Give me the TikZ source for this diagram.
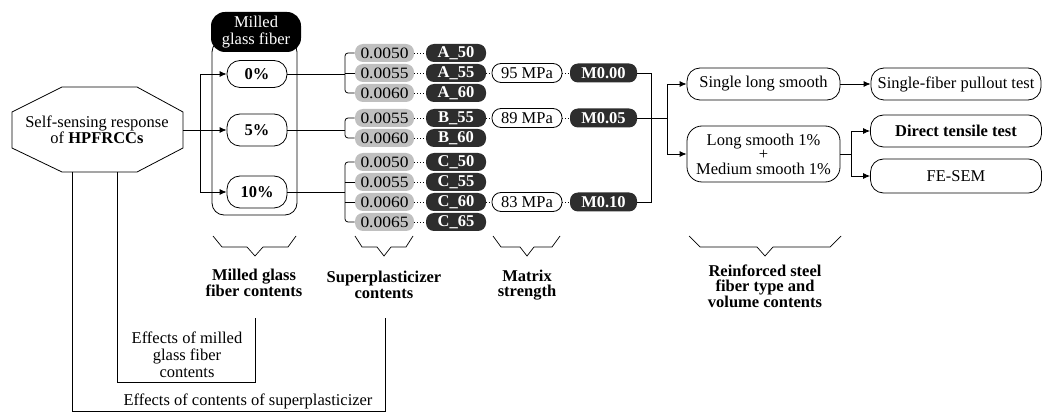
\documentclass[tikz,border=0pt]{standalone}
\usepackage{fontspec}
\setmainfont{Liberation Serif}
\usetikzlibrary{arrows.meta}
\definecolor{darkbox}{RGB}{45,45,45}
\definecolor{graybox}{RGB}{192,192,192}
\newcommand{\gnum}[1]{\resizebox{48pt}{10.5pt}{#1}}
\begin{document}
\begin{tikzpicture}[x=1pt,y=-1pt,line width=0.8pt,
  font=\fontsize{16.5}{17}\selectfont,
  arr/.style={-{Latex[length=7pt,width=6pt]}},
  roundbox/.style={draw,fill=white,rounded corners=13pt,inner sep=0pt,align=center},
  pctbox/.style={roundbox,minimum width=60pt,font=\bfseries\fontsize{16.5}{17}\selectfont},
  graynode/.style={fill=graybox,rounded corners=8pt,minimum width=59pt,minimum height=18pt,inner sep=0pt},
  darknode/.style={fill=darkbox,text=white,rounded corners=8pt,minimum height=18pt,inner sep=0pt,
    font=\bfseries\fontsize{16.5}{17}\selectfont},
  mpabox/.style={draw,fill=white,rounded corners=9pt,minimum width=70pt,minimum height=19pt,inner sep=0pt},
  dotc/.style={dotted,line width=0.8pt},
  bracelbl/.style={align=center,font=\bfseries\fontsize{16.5}{15.5}\selectfont},
  plainlbl/.style={align=center,font=\fontsize{16.5}{17}\selectfont}]
\useasboundingbox (0,0) rectangle (1044,414);

% octagon
\draw (62,87) -- (137,87) -- (183,112) -- (183,148) -- (137,172) -- (62,172) -- (12,148) -- (12,112) -- cycle;
\node[align=center,font=\fontsize{16.5}{16}\selectfont] (octtext) at (97,130) {Self-sensing response\\of \textbf{HPFRCCs}};
\coordinate (octE) at (183,130);
\coordinate (octB1) at (72,172);
\coordinate (octB2) at (117,172);

% milled glass fiber container
\draw[rounded corners=12pt] (212,40) rectangle (297,215);
\node[fill=black,text=white,rounded corners=14pt,minimum width=90pt,minimum height=40pt,inner sep=0pt,align=center,
  font=\fontsize{16.5}{17}\selectfont] (hdr) at (256,32) {Milled\\glass fiber};
\node[pctbox,minimum height=27pt] (p0) at (257,74) {0\%};
\node[pctbox,minimum height=32pt] (p5) at (257,130) {5\%};
\node[pctbox,minimum height=32pt] (p10) at (257,192) {10\%};

\draw[arr] (octE) -- (p5.west);
\draw[arr] (200,130) |- (p0.west);
\draw[arr] (200,130) |- (p10.west);

% superplasticizer
\node[graynode] (g1) at (384.5,53) {\gnum{0.0050}};
\node[graynode] (g2) at (384.5,73) {\gnum{0.0055}};
\node[graynode] (g3) at (384.5,93) {\gnum{0.0060}};
\node[graynode] (g4) at (384.5,118) {\gnum{0.0055}};
\node[graynode] (g5) at (384.5,138) {\gnum{0.0060}};
\node[graynode] (g6) at (384.5,162) {\gnum{0.0050}};
\node[graynode] (g7) at (384.5,182) {\gnum{0.0055}};
\node[graynode] (g8) at (384.5,202) {\gnum{0.0060}};
\node[graynode] (g9) at (384.5,222) {\gnum{0.0065}};
\node[darknode,minimum width=60pt] (d1) at (456,53) {A\_50};
\node[darknode,minimum width=60pt] (d2) at (456,73) {A\_55};
\node[darknode,minimum width=60pt] (d3) at (456,93) {A\_60};
\node[darknode,minimum width=60pt] (d4) at (456,118) {B\_55};
\node[darknode,minimum width=60pt] (d5) at (456,138) {B\_60};
\node[darknode,minimum width=60pt] (d6) at (456,162) {C\_50};
\node[darknode,minimum width=60pt] (d7) at (456,182) {C\_55};
\node[darknode,minimum width=60pt] (d8) at (456,202) {C\_60};
\node[darknode,minimum width=60pt] (d9) at (456,222) {C\_65};
\foreach \i in {1,...,9}{\draw[dotc] (g\i.east) -- (d\i.west);}

\draw[rounded corners=3pt] (g1.west) -- (345,53) -- (345,93) -- (g3.west);
\draw (345,73) -- (g2.west);
\draw[rounded corners=3pt] (g4.west) -- (345,118) -- (345,138) -- (g5.west);
\draw[rounded corners=3pt] (g6.west) -- (345,162) -- (345,222) -- (g9.west);
\draw (345,182) -- (g7.west);
\draw (345,202) -- (g8.west);
\draw (p0.east) -- (345,74);
\draw (p5.east) -- (345,130);
\draw (p10.east) -- (345,192);

% matrix strength
\node[mpabox] (m1) at (527,73) {95 MPa};
\node[mpabox] (m2) at (527,118) {89 MPa};
\node[mpabox] (m3) at (527,202) {83 MPa};
\node[darknode,minimum width=67pt,minimum height=19pt] (M1) at (603.5,73) {M0.00};
\node[darknode,minimum width=67pt,minimum height=19pt] (M2) at (603.5,118) {M0.05};
\node[darknode,minimum width=67pt,minimum height=19pt] (M3) at (603.5,202) {M0.10};
\draw[dotc] (d2.east) -- (m1.west);
\draw[dotc] (d4.east) -- (m2.west);
\draw[dotc] (d8.east) -- (m3.west);
\draw[dotc] (m1.east) -- (M1.west);
\draw[dotc] (m2.east) -- (M2.west);
\draw[dotc] (m3.east) -- (M3.west);

\draw (M1.east) -- (651,73) -- (651,202) -- (M3.east);
\draw (M2.east) -- (667,118);

% steel fiber
\node[roundbox,minimum width=153pt,minimum height=32pt] (sls) at (763.5,84) {Single long smooth};
\node[roundbox,minimum width=153pt,minimum height=56pt,rounded corners=15pt,
  font=\fontsize{16.5}{14.5}\selectfont] (lsm) at (763.5,154) {Long smooth 1\%\\+\\Medium smooth 1\%};
\node[roundbox,minimum width=170pt,minimum height=32pt] (sfp) at (956,84) {Single-fiber pullout test};
\node[roundbox,minimum width=171pt,minimum height=32pt,font=\bfseries\fontsize{16.5}{17}\selectfont] (dtt) at (956,131) {Direct tensile test};
\node[roundbox,minimum width=171pt,minimum height=34pt] (fes) at (956,176) {FE-SEM};

\draw[arr] (667,118) |- (sls.west);
\draw[arr] (667,118) |- (lsm.west);
\draw[arr] (sls.east) -- (sfp.west);
\draw (lsm.east) -- (851,154);
\draw[arr] (851,154) |- (dtt.west);
\draw[arr] (851,154) |- (fes.west);

% braces
\draw[line width=0.7pt] (213,236) -- (222,247) -- (247,247) -- (255,256) -- (263,247) -- (288,247) -- (296,236);
\draw[line width=0.7pt] (355,236) -- (362,247) -- (377,247) -- (384,256) -- (391,247) -- (406,247) -- (413,236);
\draw[line width=0.7pt] (493,236) -- (501,247) -- (520,247) -- (527,256) -- (534,247) -- (552,247) -- (560,236);
\draw[line width=0.7pt] (689,236) -- (700,247) -- (757,247) -- (765,256) -- (773,247) -- (830,247) -- (841,236);

\node[bracelbl] (lb1) at (254,283) {Milled glass\\fiber contents};
\node[bracelbl] (lb2) at (384,285) {Superplasticizer\\contents};
\node[bracelbl] (lb3) at (527,285) {Matrix\\strength};
\node[bracelbl] (lb4) at (765,286) {Reinforced steel\\fiber type and\\volume contents};

% effects
\draw (octB1) -- (72,411) -- (385,411) -- (385,318);
\draw (octB2) -- (117,382) -- (255,382) -- (255,318);
\node[plainlbl] (ef1) at (187,355) {Effects of milled\\glass fiber\\contents};
\node[plainlbl] (ef2) at (248,401) {Effects of contents of superplasticizer};
\end{tikzpicture}
\end{document}
